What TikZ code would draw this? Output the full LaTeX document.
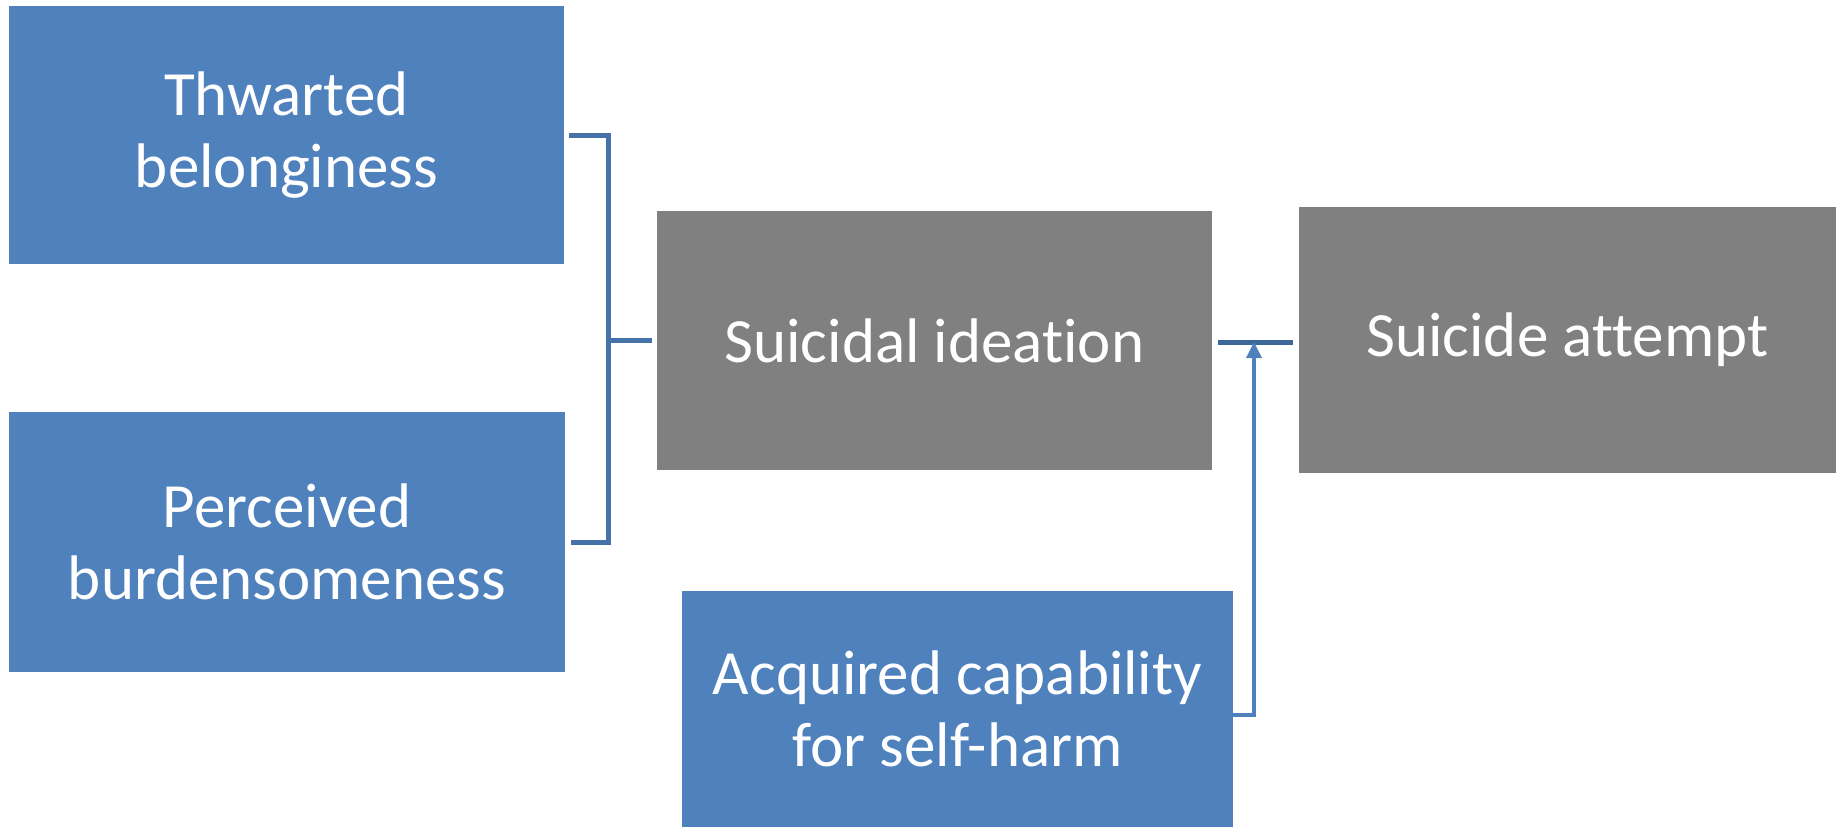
\documentclass[tikz,border=0pt]{standalone}
\usepackage{fontspec}
\setmainfont{Carlito}[Ligatures={NoCommon}]
\usetikzlibrary{arrows.meta}
\definecolor{boxblue}{HTML}{4F81BD}
\definecolor{boxgrey}{HTML}{808080}
\definecolor{brk}{HTML}{4672AA}
\definecolor{barc}{HTML}{3D6799}
\tikzset{
  box/.style={rectangle, inner sep=0pt, align=center, text=white,
    font=\fontsize{63}{72}\selectfont},
  bluebox/.style={box, fill=boxblue},
  greybox/.style={box, fill=boxgrey},
  bracket/.style={draw=brk, line width=5pt},
  barline/.style={draw=barc, line width=5pt},
  arrowline/.style={draw=boxblue, line width=3.5pt, -{Triangle[length=16pt,width=15pt]}}
}
\begin{document}
\begin{tikzpicture}[x=1pt,y=-1pt]
\useasboundingbox (0,0) rectangle (1841,827);
\node[bluebox, minimum width=555pt, minimum height=258pt] (tb) at (286.5,135) {Thwarted\\belonginess};
\node[bluebox, minimum width=556pt, minimum height=260pt] (pb) at (287,542) {Perceived\\burdensomeness};
\node[greybox, minimum width=555pt, minimum height=259pt] (si) at (934.5,340.5) {Suicidal ideation};
\node[greybox, minimum width=537pt, minimum height=266pt] (sa) at (1567.5,340) {Suicide attempt};
\node[bluebox, minimum width=551pt, minimum height=236pt] (ac) at (957.5,709) {Acquired capability\\for self-harm};
\coordinate (j) at (608,340.5);
\coordinate (m) at (1254,342);
\draw[bracket] ([xshift=5pt]tb.east) -| (j) |- ([xshift=6pt]pb.east);
\draw[bracket] (j) -- ([xshift=-5pt]si.west);
\draw[barline] ([xshift=6pt]si.east |- m) -- ([xshift=-6pt]sa.west |- m);
\draw[arrowline] ([yshift=-6pt]ac.east) -| (m);
\end{tikzpicture}
\end{document}
